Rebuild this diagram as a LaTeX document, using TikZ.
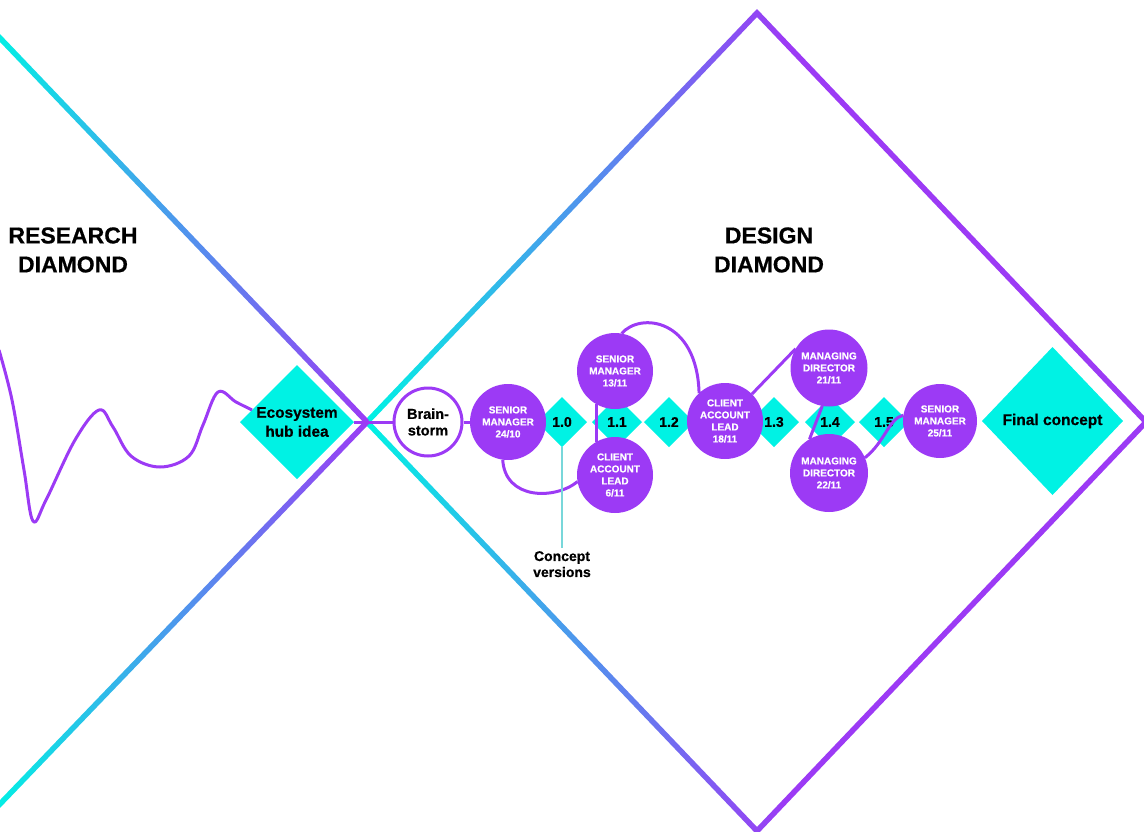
\documentclass[tikz,border=0pt]{standalone}
\usepackage{fontspec}
\setmainfont{Liberation Sans}[BoldFeatures={FakeBold=0.6}]
\usetikzlibrary{shapes.geometric}
\definecolor{dcyan}{RGB}{0,242,228}
\definecolor{dpurple}{RGB}{156,58,245}
\definecolor{vline}{RGB}{120,215,218}

\begin{document}
\begin{tikzpicture}[x=1pt,y=-1pt,
  gem/.style={diamond,aspect=1,fill=dcyan,inner sep=0pt,outer sep=0pt,align=center,
              font=\bfseries\fontsize{14}{16}\selectfont},
  ver/.style={gem,minimum width=50pt,minimum height=50pt},
  person/.style={circle,fill=dpurple,text=white,inner sep=0pt,outer sep=0pt,
                 minimum size=76pt,align=center,font=\bfseries\fontsize{10}{12}\selectfont},
  link/.style={draw=dpurple,line width=3pt},
  heading/.style={align=center,font=\bfseries\fontsize{23}{29}\selectfont\addfontfeatures{FakeBold=1.4}}
]
\useasboundingbox (0,0) rectangle (1144,831);

% design diamond outline, shaded cyan -> purple
\begin{scope}[even odd rule]
  \clip (363.2,422) -- (757,9) -- (1149.8,422) -- (757,835) -- cycle
        (370.8,422) -- (757,17) -- (1142.2,422) -- (757,827) -- cycle;
  \shade[left color=dcyan,right color=dpurple] (366,0) rectangle (785,840);
  \fill[dpurple] (785,0) rectangle (1160,840);
\end{scope}

% research diamond: the two converging strokes
\begin{scope}
  \clip (-8.9,32.7) -- (365.0,423.9) -- (369.0,420.1) -- (-4.9,28.9) -- cycle
        (-4.95,813.1) -- (369.0,423.9) -- (365.0,420.1) -- (-8.9,809.3) -- cycle;
  \shade[left color=dcyan,right color=dpurple] (-10,0) rectangle (370,840);
\end{scope}

% headings
\node[heading] (rd) at (73,250) {RESEARCH\\DIAMOND};
\node[heading] (dd) at (769,250) {DESIGN\\DIAMOND};

% idea, brainstorm and final concept
\node[gem,minimum width=114pt,minimum height=114pt,font=\bfseries\fontsize{15.4}{19}\selectfont]
  (eco) at (297,422) {Ecosystem\\hub idea};
\node[circle,draw=dpurple,line width=3pt,fill=white,minimum size=68pt,inner sep=0pt,
      align=center,font=\bfseries\fontsize{14.5}{16.5}\selectfont]
  (bs) at (428,422) {Brain-\\storm};
\node[gem,minimum width=141pt,minimum height=148pt,font=\bfseries\fontsize{15.5}{18}\selectfont]
  (fin) at (1052.5,421) {Final concept};

% concept versions
\node[ver] (v10) at (562,422) {1.0};
\node[ver] (v11) at (617,422) {1.1};
\node[ver] (v12) at (669,422) {1.2};
\node[ver] (v13) at (774,422) {1.3};
\node[ver] (v14) at (830,422) {1.4};
\node[ver] (v15) at (884,422) {1.5};

% reviewers
\node[person] (sm24) at (508,422) {SENIOR\\MANAGER\\24/10};
\node[person] (sm13) at (615,371) {SENIOR\\MANAGER\\13/11};
\node[person] (cal6) at (615,475) {CLIENT\\ACCOUNT\\LEAD\\6/11};
\node[person] (cal18) at (725,421) {CLIENT\\ACCOUNT\\LEAD\\18/11};
\node[person,minimum size=77pt] (md21) at (829,368) {MANAGING\\DIRECTOR\\21/11};
\node[person,minimum size=78pt] (md22) at (829,473) {MANAGING\\DIRECTOR\\22/11};
\node[person,minimum size=74pt] (sm25) at (940,421) {SENIOR\\MANAGER\\25/11};

% research wander into the idea
\coordinate (wstart) at (-1,350);
\draw[link,line join=round] plot[smooth,tension=0.6] coordinates {
  (wstart) (12,400) (24,470) (33,521) (46,500) (75,440) (99,410) (113,427)
  (131,456) (160,467) (189,456) (203,425) (218,392) (236,402) (eco.165)};

% path through the design diamond
\draw[link] (eco.east) -- (bs.west);
\draw[link] (bs.east) -- (sm24.west);
\draw[link] (sm24.262) .. controls (505,500) and (555,500) .. (cal6.190);
\draw[link] (cal6.120) -- (sm13.240);
\draw[link] (sm13.80) .. controls (640,312) and (697,318) .. (cal18.133);
\draw[link] (cal18.45) -- (md21.150);
\draw[link] (md21.260) -- (md22.120);
\draw[link] (md22.23) .. controls (885,442) and (889,418) .. (sm25.171);

% label for the versions
\node[align=center,anchor=north,inner sep=3pt,font=\bfseries\fontsize{14}{16}\selectfont]
  (cv) at (562,548) {Concept\\versions};
\draw[vline,line width=2.5pt] (v10.south) -- (cv.north);
\end{tikzpicture}
\end{document}
